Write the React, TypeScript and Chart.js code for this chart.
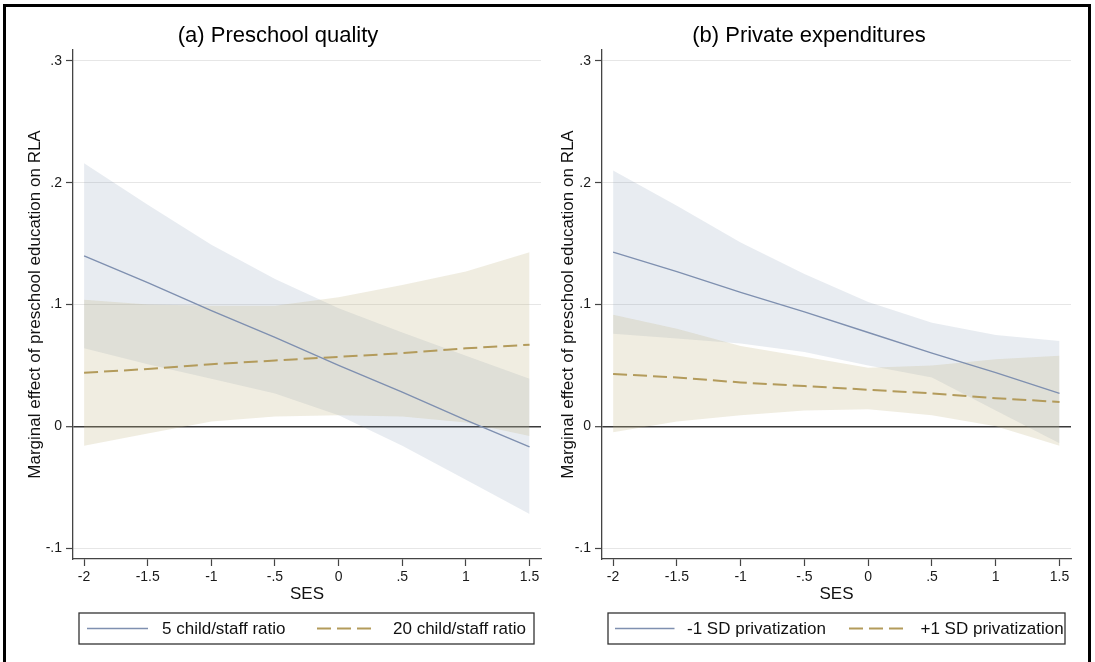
import React, { useEffect, useRef } from "react";
import { Chart, registerables } from "chart.js";

Chart.register(...registerables);

// ---------- data ----------
const SES = [-2, -1.5, -1, -0.5, 0, 0.5, 1, 1.5];
const X_TICKS = [-2, -1.5, -1, -0.5, 0, 0.5, 1, 1.5];
const Y_TICKS = [-0.1, 0, 0.1, 0.2, 0.3];

// (a) Preschool quality
const TITLE_A = "(a) Preschool quality";
const LABEL_A1 = "5 child/staff ratio";
const LABEL_A2 = "20 child/staff ratio";
const A1_MEAN = [0.14, 0.118, 0.095, 0.073, 0.05, 0.028, 0.005, -0.017];
const A1_UPPER = [0.216, 0.182, 0.149, 0.121, 0.097, 0.077, 0.058, 0.039];
const A1_LOWER = [0.064, 0.051, 0.039, 0.027, 0.009, -0.016, -0.044, -0.072];
const A2_MEAN = [0.044, 0.047, 0.051, 0.054, 0.057, 0.06, 0.064, 0.067];
const A2_UPPER = [0.104, 0.1, 0.099, 0.099, 0.106, 0.116, 0.127, 0.143];
const A2_LOWER = [-0.016, -0.006, 0.004, 0.008, 0.009, 0.008, 0.003, -0.008];

// (b) Private expenditures
const TITLE_B = "(b) Private expenditures";
const LABEL_B1 = "-1 SD privatization";
const LABEL_B2 = "+1 SD privatization";
const B1_MEAN = [0.143, 0.127, 0.11, 0.094, 0.077, 0.06, 0.044, 0.027];
const B1_UPPER = [0.21, 0.181, 0.151, 0.125, 0.102, 0.085, 0.075, 0.07];
const B1_LOWER = [0.076, 0.072, 0.068, 0.061, 0.05, 0.04, 0.013, -0.014];
const B2_MEAN = [0.043, 0.04, 0.036, 0.033, 0.03, 0.027, 0.023, 0.02];
const B2_UPPER = [0.0915, 0.08, 0.066, 0.057, 0.048, 0.05, 0.055, 0.058];
const B2_LOWER = [-0.005, 0.004, 0.009, 0.013, 0.014, 0.009, 0.0, -0.016];

const Y_TITLE = "Marginal effect of preschool education on RLA";
const X_TITLE = "SES";

// ---------- styles ----------
const FONT = "'Liberation Sans', Arial, Helvetica, sans-serif";
const BLUE_LINE = "#7f90b0";
const TAN_LINE = "#b39b5b";
const BLUE_BAND = "rgba(115,138,165,0.16)";
const TAN_BAND = "rgba(195,183,135,0.25)";
const AXIS = "#444";
const DASH = [14, 6];
const H = 662;

const fmt = (v: number) => {
  if (v === 0) return "0";
  const s = String(Math.abs(v)).replace(/^0/, "");
  return (v < 0 ? "-" : "") + s;
};

const pts = (ys: number[]) => SES.map((x, i) => ({ x, y: ys[i] }));

interface Spec {
  title: string;
  labels: [string, string];
  mean1: number[];
  upper1: number[];
  lower1: number[];
  mean2: number[];
  upper2: number[];
  lower2: number[];
  canvasLeft: number;
  width: number;
  padLeft: number;
  padRight: number;
  yWidth: number;
  yTitlePad: number;
  legend: {
    box: [number, number, number, number];
    s1: [number, number];
    t1: number;
    s2: [number, number];
    t2: number;
  };
}

const SPEC_A: Spec = {
  title: TITLE_A,
  labels: [LABEL_A1, LABEL_A2],
  mean1: A1_MEAN,
  upper1: A1_UPPER,
  lower1: A1_LOWER,
  mean2: A2_MEAN,
  upper2: A2_UPPER,
  lower2: A2_LOWER,
  canvasLeft: 0,
  width: 545,
  padLeft: 15,
  padRight: 4,
  yWidth: 58,
  yTitlePad: 9.8,
  legend: { box: [79, 613, 534, 644], s1: [87, 148], t1: 162, s2: [317, 373], t2: 393 },
};

const SPEC_B: Spec = {
  title: TITLE_B,
  labels: [LABEL_B1, LABEL_B2],
  mean1: B1_MEAN,
  upper1: B1_UPPER,
  lower1: B1_LOWER,
  mean2: B2_MEAN,
  upper2: B2_UPPER,
  lower2: B2_LOWER,
  canvasLeft: 545,
  width: 550,
  padLeft: 2,
  padRight: 24,
  yWidth: 55,
  yTitlePad: 10.8,
  legend: { box: [63, 613, 520, 644], s1: [70, 129.5], t1: 142, s2: [304, 359.6], t2: 375.5 },
};

function makeChart(canvas: HTMLCanvasElement, spec: Spec) {
  const legendPlugin = {
    id: "stataLegend",
    afterDraw(chart: any) {
      const ctx = chart.ctx as CanvasRenderingContext2D;
      const L = spec.legend;
      const [x0, y0, x1, y1] = L.box;
      const cy = (y0 + y1) / 2;
      ctx.save();
      ctx.strokeStyle = "#333";
      ctx.lineWidth = 1.3;
      ctx.strokeRect(x0, y0, x1 - x0, y1 - y0);
      ctx.lineWidth = 1.4;
      ctx.strokeStyle = BLUE_LINE;
      ctx.setLineDash([]);
      ctx.beginPath();
      ctx.moveTo(L.s1[0], cy);
      ctx.lineTo(L.s1[1], cy);
      ctx.stroke();
      ctx.lineWidth = 2;
      ctx.strokeStyle = TAN_LINE;
      ctx.setLineDash(DASH);
      ctx.beginPath();
      ctx.moveTo(L.s2[0], cy);
      ctx.lineTo(L.s2[1], cy);
      ctx.stroke();
      ctx.setLineDash([]);
      ctx.fillStyle = "#111";
      ctx.font = `17px ${FONT}`;
      ctx.textBaseline = "middle";
      ctx.textAlign = "left";
      ctx.fillText(spec.labels[0], L.t1, cy + 1);
      ctx.fillText(spec.labels[1], L.t2, cy + 1);
      ctx.restore();
    },
  };

  return new Chart(canvas, {
    type: "line",
    data: {
      datasets: [
        {
          label: spec.labels[0],
          data: pts(spec.mean1),
          borderColor: BLUE_LINE,
          borderWidth: 1.4,
          pointRadius: 0,
          fill: false,
          tension: 0,
        },
        {
          label: spec.labels[1],
          data: pts(spec.mean2),
          borderColor: TAN_LINE,
          borderWidth: 2,
          borderDash: DASH,
          pointRadius: 0,
          fill: false,
          tension: 0,
        },
        {
          label: "ci2 upper",
          data: pts(spec.upper2),
          borderWidth: 0,
          borderColor: "rgba(0,0,0,0)",
          pointRadius: 0,
          fill: false,
        },
        {
          label: "ci2 lower",
          data: pts(spec.lower2),
          borderWidth: 0,
          borderColor: "rgba(0,0,0,0)",
          backgroundColor: TAN_BAND,
          pointRadius: 0,
          fill: "-1",
        },
        {
          label: "ci1 upper",
          data: pts(spec.upper1),
          borderWidth: 0,
          borderColor: "rgba(0,0,0,0)",
          pointRadius: 0,
          fill: false,
        },
        {
          label: "ci1 lower",
          data: pts(spec.lower1),
          borderWidth: 0,
          borderColor: "rgba(0,0,0,0)",
          backgroundColor: BLUE_BAND,
          pointRadius: 0,
          fill: "-1",
        },
      ],
    },
    options: {
      animation: false,
      responsive: false,
      events: [],
      layout: {
        padding: { left: spec.padLeft, right: spec.padRight, top: 0, bottom: 57.8 },
      },
      plugins: {
        legend: { display: false },
        tooltip: { enabled: false },
        title: {
          display: true,
          text: spec.title,
          color: "#000",
          font: { family: FONT, size: 22, weight: "normal" },
          padding: { top: 22.8, bottom: 0.8 },
        },
      },
      scales: {
        x: {
          type: "linear",
          min: -2.087,
          max: 1.59,
          afterBuildTicks: (s: any) => {
            s.ticks = X_TICKS.map((v) => ({ value: v }));
          },
          afterFit: (s: any) => {
            s.height = 45.2;
          },
          ticks: {
            callback: (v: any) => fmt(Number(v)),
            font: { family: FONT, size: 14 },
            color: "#1a1a1a",
            padding: 3,
            maxRotation: 0,
            autoSkip: false,
          },
          grid: {
            drawOnChartArea: false,
            drawTicks: true,
            tickLength: 7,
            tickColor: AXIS,
            tickWidth: 1.2,
          },
          border: { display: true, color: AXIS, width: 1.3 },
          title: {
            display: true,
            text: X_TITLE,
            color: "#111",
            font: { family: FONT, size: 17 },
            padding: { top: 0, bottom: 0 },
          },
        },
        y: {
          type: "linear",
          min: -0.109,
          max: 0.309,
          afterBuildTicks: (s: any) => {
            s.ticks = Y_TICKS.map((v) => ({ value: v }));
          },
          afterFit: (s: any) => {
            s.width = spec.yWidth;
          },
          ticks: {
            callback: (v: any) => fmt(Number(v)),
            font: { family: FONT, size: 14 },
            color: "#1a1a1a",
            padding: 4,
          },
          grid: {
            color: (c: any) => (c.tick && c.tick.value === 0 ? "#3a3a3a" : "#e6e6e6"),
            lineWidth: (c: any) => (c.tick && c.tick.value === 0 ? 1.4 : 1),
            drawTicks: true,
            tickLength: 7,
            tickColor: AXIS,
            tickWidth: 1.2,
          },
          border: { display: true, color: AXIS, width: 1.3 },
          title: {
            display: true,
            text: Y_TITLE,
            color: "#111",
            font: { family: FONT, size: 17 },
            padding: { top: spec.yTitlePad, bottom: 0 },
          },
        },
      },
    },
    plugins: [legendPlugin],
  } as any);
}

function Panel({ spec }: { spec: Spec }) {
  const ref = useRef<HTMLCanvasElement | null>(null);
  useEffect(() => {
    if (!ref.current) return;
    const chart = makeChart(ref.current, spec);
    return () => chart.destroy();
  }, [spec]);
  return (
    <canvas
      ref={ref}
      width={spec.width}
      height={H}
      style={{
        position: "absolute",
        left: spec.canvasLeft,
        top: 0,
        width: spec.width,
        height: H,
      }}
    />
  );
}

export default function App() {
  return (
    <div
      style={{
        position: "absolute",
        left: 0,
        top: 0,
        width: 1095,
        height: H,
        overflow: "hidden",
        background: "#fff",
      }}
    >
      <div
        style={{
          position: "absolute",
          left: 3,
          top: 4,
          width: 1088,
          height: 720,
          border: "3.5px solid #000",
          boxSizing: "border-box",
        }}
      />
      <Panel spec={SPEC_A} />
      <Panel spec={SPEC_B} />
    </div>
  );
}
